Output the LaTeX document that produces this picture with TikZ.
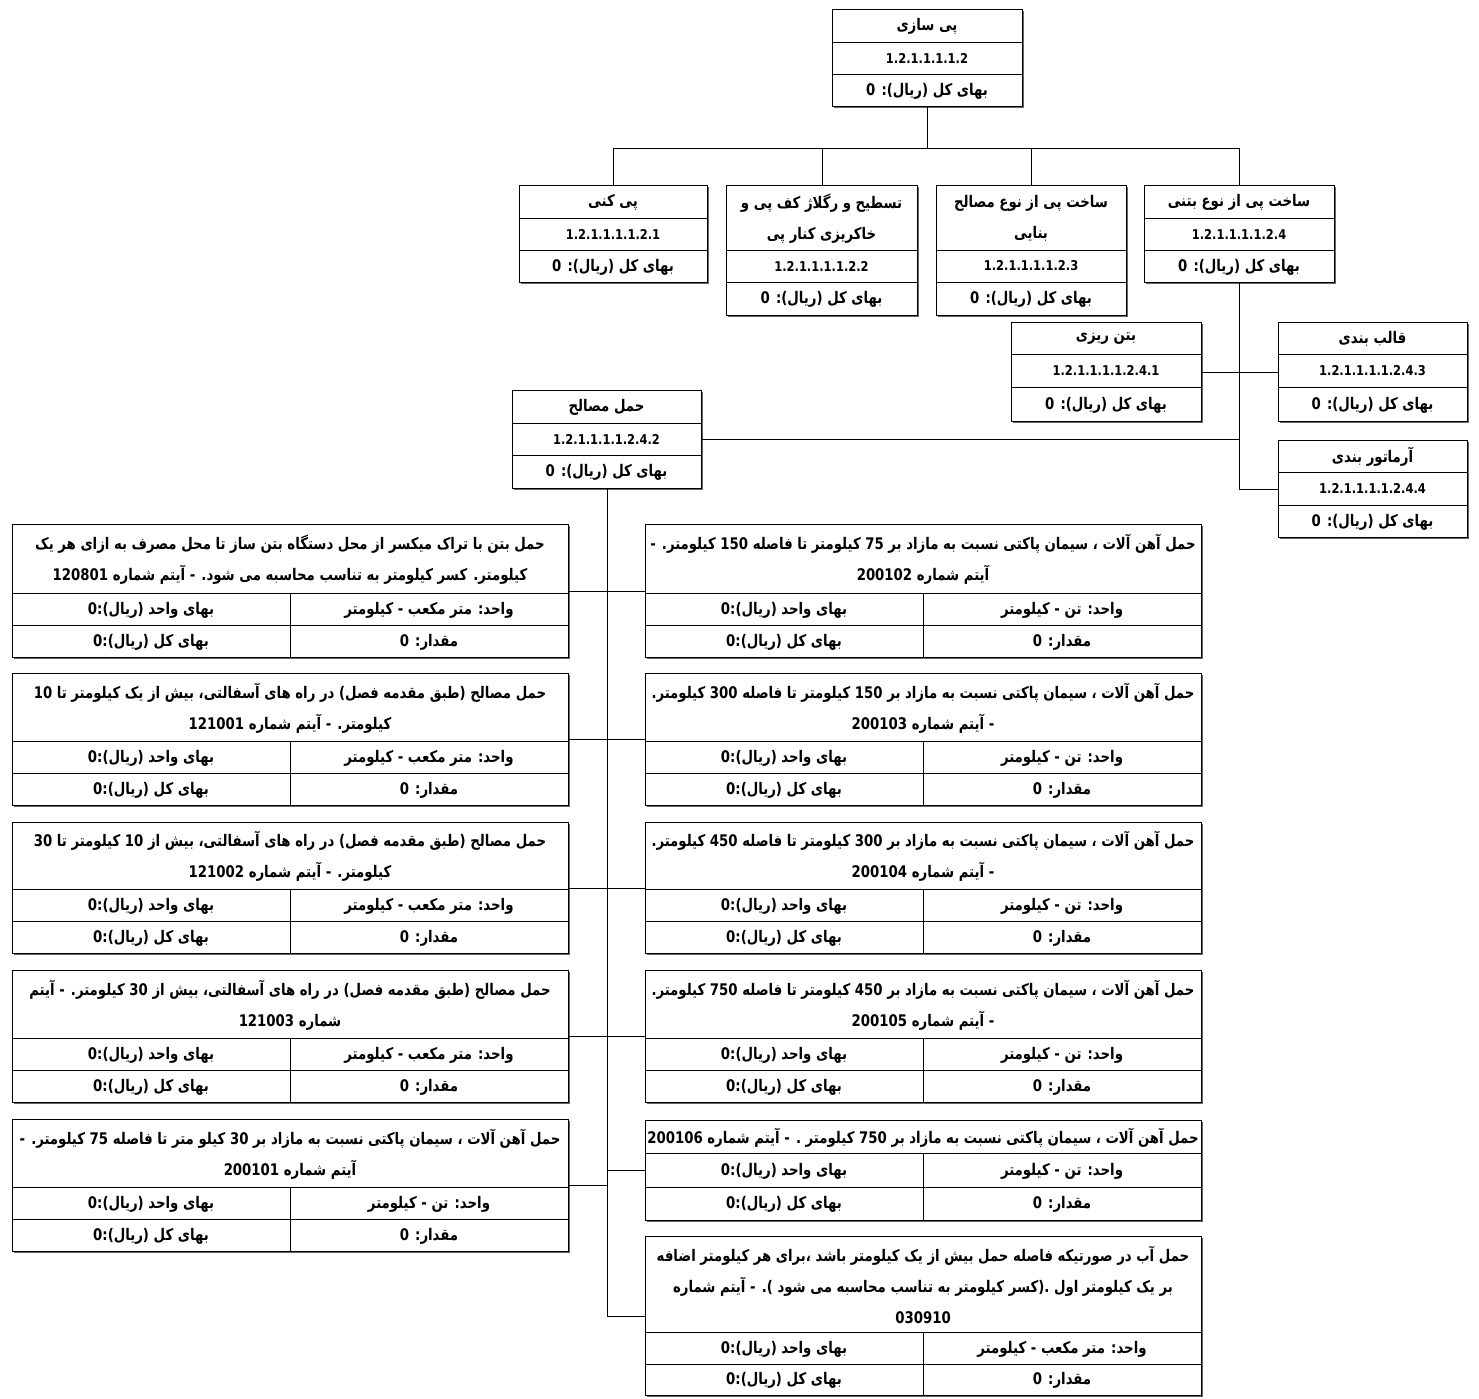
\documentclass[tikz,border=0pt]{standalone}
\usepackage{fontspec}
\TeXXeTstate=1
\newfontfamily\fa[Script=Arabic,FakeStretch=0.83]{DejaVu Sans}
\newfontfamily\fanum[FakeStretch=0.85]{DejaVu Sans}
\usetikzlibrary{shadows}
\newcommand\rl[1]{\beginR #1\endR}

\tikzset{
 wbox/.style={draw=black, line width=0.9pt, fill=white, inner sep=0pt, anchor=north west,
   drop shadow={shadow xshift=1.6pt, shadow yshift=-1.6pt, fill=black!60, opacity=1}},
 txt/.style={font=\fa\bfseries\fontsize{16}{31}\selectfont, align=center, inner sep=0pt},
 num/.style={font=\fanum\bfseries\fontsize{13.5}{16}\selectfont, inner sep=0pt},
 sepl/.style={line width=0.8pt},
 conn/.style={line width=0.6pt},
}

% name, x1, y1, x2, s1, s2, y2, title, code
\newcommand\orgbox[9]{%
 \node[wbox, minimum width={(#4-#2)*1pt}, minimum height={(#7-#3)*1pt}] (#1) at (#2,#3) {};
 \draw[sepl] (#2,#5) -- (#4,#5);
 \draw[sepl] (#2,#6) -- (#4,#6);
 \node[txt] (#1-t) at ({(#2+#4)/2},{(#3+#5)/2+1}) {#8};
 \node[num] (#1-c) at ({(#2+#4)/2},{(#5+#6)/2}) {#9};
 \node[txt] (#1-p) at ({(#2+#4)/2},{(#6+#7)/2+1}) {\beginR بهای کل (ریال): 0\endR};
}

% name, x1, y1, s1, s2, y2, title, unit
\newcommand\itembox[8]{%
 \node[wbox, minimum width=556pt, minimum height={(#6-#3)*1pt}] (#1) at (#2,#3) {};
 \draw[sepl] (#2,#4) -- ({#2+556},#4);
 \draw[sepl] (#2,#5) -- ({#2+556},#5);
 \draw[sepl] ({#2+278},#4) -- ({#2+278},#6);
 \node[txt] (#1-t) at ({#2+278},{(#3+#4)/2+1}) {#7};
 \node[txt] (#1-u) at ({#2+417},{(#4+#5)/2+1}) {#8};
 \node[txt] (#1-v) at ({#2+139},{(#4+#5)/2+1}) {\beginR بهای واحد (ریال):0\endR};
 \node[txt] (#1-q) at ({#2+417},{(#5+#6)/2+1}) {\beginR مقدار: 0\endR};
 \node[txt] (#1-k) at ({#2+139},{(#5+#6)/2+1}) {\beginR بهای کل (ریال):0\endR};
}

\begin{document}
\begin{tikzpicture}[x=1pt,y=-1pt]
\fill[white] (0,0) rectangle (1479,1398);
\useasboundingbox (0,0) rectangle (1479,1398);

\orgbox{root}{832}{9}{1022}{42}{74}{106}{\rl{پی سازی}}{1.2.1.1.1.1.2}
\orgbox{c1}{519}{185}{707}{218}{250}{282}{\rl{پی کنی}}{1.2.1.1.1.1.2.1}
\orgbox{c2}{726}{185}{917}{250}{282}{315}{\rl{تسطیح و رگلاژ کف پی و}\\\rl{خاکریزی کنار پی}}{1.2.1.1.1.1.2.2}
\orgbox{c3}{936}{185}{1126}{250}{282}{315}{\rl{ساخت پی از نوع مصالح}\\\rl{بنایی}}{1.2.1.1.1.1.2.3}
\orgbox{c4}{1144}{185}{1334}{218}{250}{282}{\rl{ساخت پی از نوع بتنی}}{1.2.1.1.1.1.2.4}
\orgbox{r1}{1011}{322}{1201}{354}{387}{421}{\rl{بتن ریزی}}{1.2.1.1.1.1.2.4.1}
\orgbox{r3}{1278}{322}{1467}{354}{387}{421}{\rl{قالب بندی}}{1.2.1.1.1.1.2.4.3}
\orgbox{r4}{1278}{440}{1467}{472}{505}{537}{\rl{آرماتور بندی}}{1.2.1.1.1.1.2.4.4}
\orgbox{mm}{512}{390}{701}{423}{455}{488}{\rl{حمل مصالح}}{1.2.1.1.1.1.2.4.2}

\itembox{L1}{12}{524}{593}{625}{657}{\rl{حمل بتن با تراک میکسر از محل دستگاه بتن ساز تا محل مصرف به ازای هر یک}\\\rl{کیلومتر. کسر کیلومتر به تناسب محاسبه می شود. - آیتم شماره 120801}}{\rl{واحد: متر مکعب - کیلومتر}}
\itembox{L2}{12}{673}{741}{773}{805}{\rl{حمل مصالح (طبق مقدمه فصل) در راه های آسفالتی، بیش از یک کیلومتر تا 10}\\\rl{کیلومتر. - آیتم شماره 121001}}{\rl{واحد: متر مکعب - کیلومتر}}
\itembox{L3}{12}{822}{889}{921}{953}{\rl{حمل مصالح (طبق مقدمه فصل) در راه های آسفالتی، بیش از 10 کیلومتر تا 30}\\\rl{کیلومتر. - آیتم شماره 121002}}{\rl{واحد: متر مکعب - کیلومتر}}
\itembox{L4}{12}{970}{1038}{1070}{1102}{\rl{حمل مصالح (طبق مقدمه فصل) در راه های آسفالتی، بیش از 30 کیلومتر. - آیتم}\\\rl{شماره 121003}}{\rl{واحد: متر مکعب - کیلومتر}}
\itembox{L5}{12}{1119}{1187}{1219}{1251}{\rl{حمل آهن آلات ، سیمان پاکتی نسبت به مازاد بر 30 کیلو متر تا فاصله 75 کیلومتر. -}\\\rl{آیتم شماره 200101}}{\rl{واحد: تن - کیلومتر}}

\itembox{R1}{645}{524}{593}{625}{657}{\rl{حمل آهن آلات ، سیمان پاکتی نسبت به مازاد بر 75 کیلومتر تا فاصله 150 کیلومتر. -}\\\rl{آیتم شماره 200102}}{\rl{واحد: تن - کیلومتر}}
\itembox{R2}{645}{673}{741}{773}{805}{\rl{حمل آهن آلات ، سیمان پاکتی نسبت به مازاد بر 150 کیلومتر تا فاصله 300 کیلومتر.}\\\rl{- آیتم شماره 200103}}{\rl{واحد: تن - کیلومتر}}
\itembox{R3}{645}{822}{889}{921}{953}{\rl{حمل آهن آلات ، سیمان پاکتی نسبت به مازاد بر 300 کیلومتر تا فاصله 450 کیلومتر.}\\\rl{- آیتم شماره 200104}}{\rl{واحد: تن - کیلومتر}}
\itembox{R4}{645}{970}{1038}{1070}{1102}{\rl{حمل آهن آلات ، سیمان پاکتی نسبت به مازاد بر 450 کیلومتر تا فاصله 750 کیلومتر.}\\\rl{- آیتم شماره 200105}}{\rl{واحد: تن - کیلومتر}}
\itembox{R5}{645}{1120}{1153}{1187}{1220}{\rl{حمل آهن آلات ، سیمان پاکتی نسبت به مازاد بر 750 کیلومتر . - آیتم شماره 200106}}{\rl{واحد: تن - کیلومتر}}
\itembox{R6}{645}{1236}{1332}{1364}{1395}{\rl{حمل آب در صورتیکه فاصله حمل بیش از یک کیلومتر باشد ،برای هر کیلومتر اضافه}\\\rl{بر یک کیلومتر اول .(کسر کیلومتر به تناسب محاسبه می شود ). - آیتم شماره}\\030910}{\rl{واحد: متر مکعب - کیلومتر}}

% connectors
\draw[conn] (root.south) -- ++(0,41) coordinate (bus);
\foreach \c in {c1,c2,c3,c4} \draw[conn] (bus) -| (\c.north);
\draw[conn] (c4.south) |- (r4.west);
\draw[conn] (r1.east) -- (r3.west);
\draw[conn] (mm.east) -- (c4.south |- mm.east);
\draw[conn] (mm.south) |- (R6.west);
\foreach \b in {L1,L2,L3,L4,L5} \draw[conn] (\b.east) -- (mm.south |- \b.east);
\foreach \b in {R1,R2,R3,R4,R5} \draw[conn] (mm.south |- \b.west) -- (\b.west);
\end{tikzpicture}
\end{document}
